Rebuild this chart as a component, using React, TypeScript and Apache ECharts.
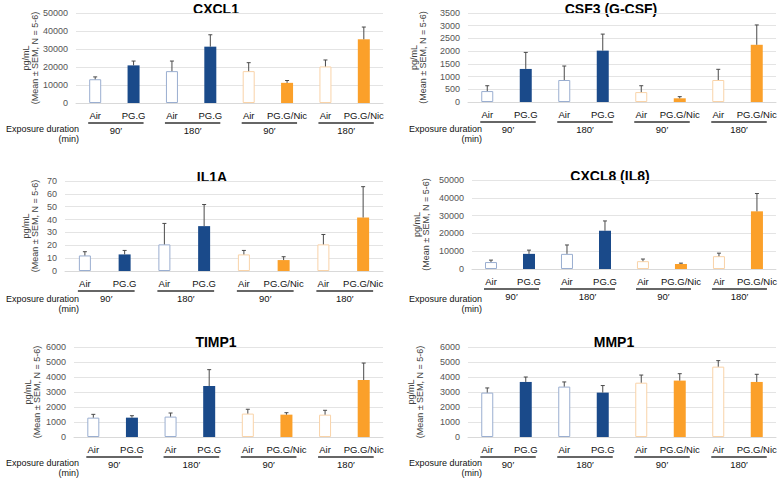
import React, { useEffect, useRef } from "react";
import * as echarts from "echarts";

const categories = ["Air", "PG.G", "Air", "PG.G", "Air", "PG.G/Nic", "Air", "PG.G/Nic"];
const durations = ["90′", "180′", "90′", "180′"];
const groupPairs = [[0, 1], [2, 3], [4, 5], [6, 7]];
const isAir = [true, false, true, false, true, false, true, false];
const isNic = [false, false, false, false, true, true, true, true];

const panelTitles = ["CXCL1", "CSF3 (G-CSF)", "IL1A", "CXCL8 (IL8)", "TIMP1", "MMP1"];
const yMax = [50000, 3500, 70, 50000, 6000, 6000];
const yStep = [10000, 500, 10, 10000, 1000, 1000];

const cxcl1Mean = [13200, 20900, 17700, 31300, 17700, 11200, 20300, 35400];
const cxcl1Sem = [1300, 2400, 5600, 6600, 4700, 1300, 3600, 6800];
const csf3Mean = [430, 1300, 865, 2020, 390, 145, 865, 2250];
const csf3Sem = [210, 650, 550, 650, 250, 65, 420, 780];
const il1aMean = [12.1, 12.9, 20.7, 34.9, 12.9, 8.5, 20.7, 41.6];
const il1aSem = [2.9, 3.1, 16.3, 16.8, 3.1, 2.6, 7.7, 24.0];
const cxcl8Mean = [3900, 8500, 8500, 21500, 4400, 2800, 7200, 32400];
const cxcl8Sem = [1100, 2100, 5000, 5500, 1200, 500, 1700, 10000];
const timp1Mean = [1290, 1290, 1360, 3400, 1560, 1490, 1490, 3800];
const timp1Sem = [220, 130, 240, 1090, 290, 130, 290, 1130];
const mmp1Mean = [2960, 3670, 3360, 2960, 3620, 3760, 4690, 3670];
const mmp1Sem = [310, 330, 310, 470, 510, 460, 400, 510];

const means = [cxcl1Mean, csf3Mean, il1aMean, cxcl8Mean, timp1Mean, mmp1Mean];
const sems = [cxcl1Sem, csf3Sem, il1aSem, cxcl8Sem, timp1Sem, mmp1Sem];

// layout
const grids = [
  { left: 76, top: 13, width: 307, height: 90 },
  { left: 468, top: 13, width: 308, height: 89 },
  { left: 65, top: 181, width: 318, height: 90 },
  { left: 472, top: 180, width: 304, height: 89 },
  { left: 74, top: 347, width: 309, height: 90 },
  { left: 468, top: 347, width: 308, height: 90 },
];
const nameGaps = [35, 41, 26, 42, 33, 44];
const titlePos = [
  [216, 9], [611, 9], [212, 177], [610, 176], [216, 342], [614, 342],
];
const exposurePos = [
  [79, 124], [482, 124], [79, 294], [482, 294], [79, 458], [482, 458],
];

const FONT = "'Liberation Sans', Arial, sans-serif";
const BLUE = "#1A4A8A";
const ORANGE = "#FBA02A";
const BLUE_LIGHT = "#9AAED0";
const ORANGE_LIGHT = "#F9D3A8";

export default function App() {
  const ref = useRef<HTMLDivElement>(null);
  useEffect(() => {
    if (!ref.current) return;
    const chart = echarts.init(ref.current, null, { renderer: "svg" });
    const gridOpt: any[] = [];
    const xAxis: any[] = [];
    const yAxis: any[] = [];
    const series: any[] = [];
    const graphic: any[] = [];

    for (let p = 0; p < 6; p++) {
      gridOpt.push({ ...grids[p], containLabel: false });
      xAxis.push({
        type: "category",
        gridIndex: p,
        data: categories,
        axisTick: { show: false },
        axisLine: { lineStyle: { color: "#d9d9d9", width: 1 } },
        axisLabel: { interval: 0, color: "#111", fontSize: 9.5, fontFamily: FONT, margin: 7 },
      });
      yAxis.push({
        type: "value",
        gridIndex: p,
        min: 0,
        max: yMax[p],
        interval: yStep[p],
        axisLine: { show: false },
        axisTick: { show: false },
        splitLine: { lineStyle: { color: "#e4e4e4", width: 1 } },
        axisLabel: {
          color: "#555",
          fontSize: 9,
          fontFamily: FONT,
          margin: 8,
          formatter: (v: number) => String(v),
        },
        name: "pg/mL\n(Mean ± SEM, N = 5-6)",
        nameLocation: "middle",
        nameRotate: 90,
        nameGap: nameGaps[p],
        nameTextStyle: { color: "#404040", fontSize: 9, lineHeight: 9, fontFamily: FONT },
      });
      series.push({
        type: "bar",
        xAxisIndex: p,
        yAxisIndex: p,
        barWidth: 12,
        data: means[p].map((v, i) => ({
          value: v,
          itemStyle: isAir[i]
            ? { color: "#ffffff", borderColor: isNic[i] ? ORANGE_LIGHT : BLUE_LIGHT, borderWidth: 1 }
            : { color: isNic[i] ? ORANGE : BLUE },
        })),
      });
      series.push({
        type: "custom",
        xAxisIndex: p,
        yAxisIndex: p,
        z: 5,
        clip: false,
        data: means[p].map((v, i) => [i, v, v + sems[p][i]]),
        renderItem: (params: any, api: any) => {
          const x = api.value(0);
          const p0 = api.coord([x, api.value(1)]);
          const p1 = api.coord([x, api.value(2)]);
          const st = { stroke: "#4a4a4a", lineWidth: 1 };
          return {
            type: "group",
            children: [
              { type: "line", shape: { x1: p0[0], y1: p0[1], x2: p1[0], y2: p1[1] }, style: st },
              { type: "line", shape: { x1: p1[0] - 2, y1: p1[1], x2: p1[0] + 2, y2: p1[1] }, style: st },
            ],
          };
        },
      });
      series.push({
        type: "custom",
        xAxisIndex: p,
        yAxisIndex: p,
        z: 5,
        clip: false,
        silent: true,
        data: groupPairs.map((g) => [g[0], 0, g[1]]),
        renderItem: (params: any, api: any) => {
          const a = api.coord([api.value(0), 0]);
          const b = api.coord([api.value(2), 0]);
          const y0 = a[1];
          const x1 = a[0] - 7;
          const x2 = b[0] + 10;
          return {
            type: "group",
            children: [
              { type: "line", shape: { x1, y1: y0 + 20, x2, y2: y0 + 20 }, style: { stroke: "#333", lineWidth: 1.5 } },
              {
                type: "text",
                x: (x1 + x2) / 2,
                y: y0 + 27,
                style: {
                  text: durations[params.dataIndex],
                  fill: "#111",
                  font: `9.5px ${FONT}`,
                  align: "center",
                  verticalAlign: "middle",
                },
              },
            ],
          };
        },
      });
      graphic.push({
        type: "text",
        x: titlePos[p][0],
        y: titlePos[p][1],
        style: {
          text: panelTitles[p],
          fill: "#000",
          font: `bold 14px ${FONT}`,
          align: "center",
          verticalAlign: "middle",
        },
      });
      graphic.push({
        type: "text",
        x: exposurePos[p][0],
        y: exposurePos[p][1],
        style: {
          text: "Exposure duration\n(min)",
          fill: "#111",
          font: `9px ${FONT}`,
          lineHeight: 10,
          align: "right",
          verticalAlign: "top",
        },
      });
    }

    chart.setOption({
      animation: false,
      backgroundColor: "#ffffff",
      grid: gridOpt,
      xAxis,
      yAxis,
      series,
      graphic,
    });
    return () => chart.dispose();
  }, []);
  return <div ref={ref} style={{ width: 780, height: 482, position: "absolute", left: 0, top: 0 }} />;
}
